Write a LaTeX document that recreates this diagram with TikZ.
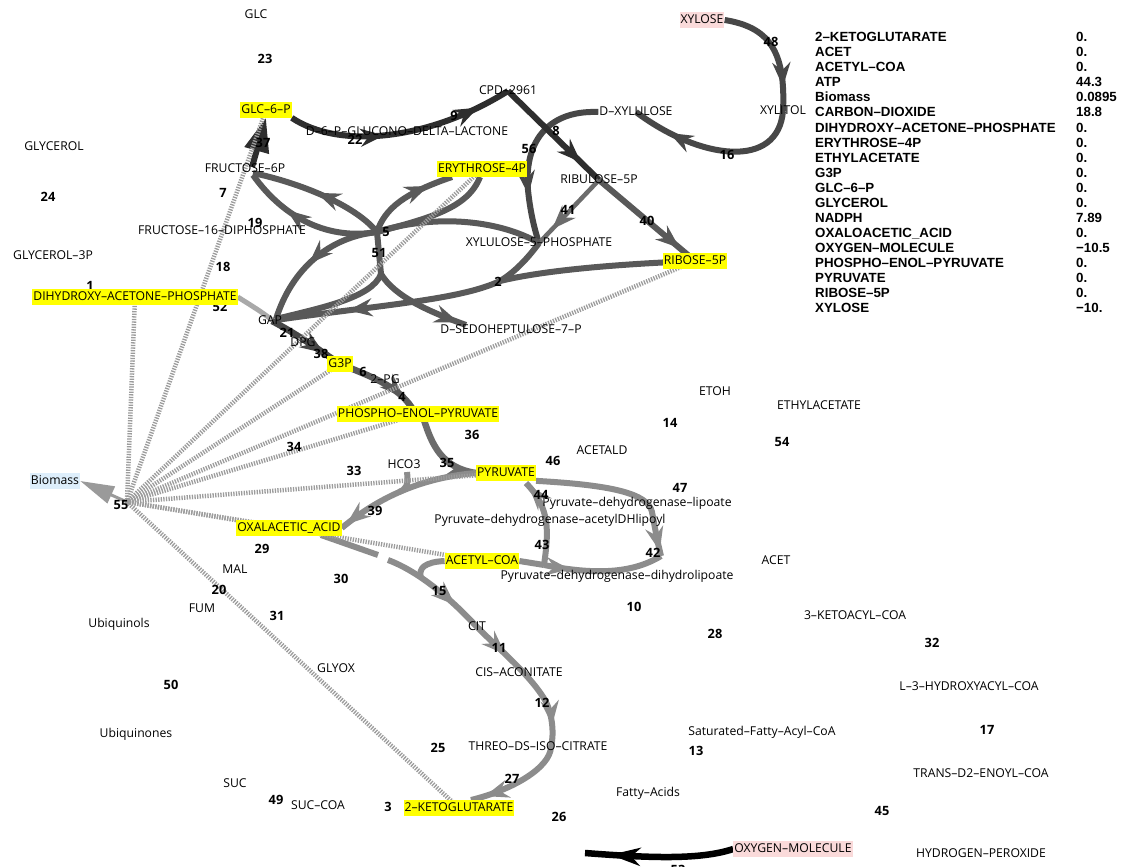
\documentclass[tikz,border=0pt]{standalone}
\usepackage{fontspec}
\usetikzlibrary{arrows.meta,decorations.markings}
\newfontfamily\osans{Open Sans}
\newfontfamily\lsans{Liberation Sans}
\definecolor{hlyellow}{HTML}{FFFF00}
\definecolor{srcpink}{HTML}{FADADA}
\definecolor{bioblue}{HTML}{DDEEFB}
\definecolor{cA}{HTML}{2E2E2E}
\definecolor{cB}{HTML}{474747}
\definecolor{cC}{HTML}{595959}
\definecolor{cD}{HTML}{6C6C6C}
\definecolor{cE}{HTML}{8C8C8C}
\definecolor{cF}{HTML}{A9A9A9}
\definecolor{cG}{HTML}{9A9A9A}
\definecolor{hatchgray}{HTML}{9C9C9C}
\pgfdeclarelayer{bg}
\pgfdeclarelayer{mid}
\pgfsetlayers{bg,mid,main}
\tikzset{
  met/.style={font=\osans\fontsize{12.2}{14}\selectfont, text=black, inner xsep=1pt, inner ysep=2.5pt, text height=8.8pt, text depth=1.5pt},
  hl/.style={met, fill=hlyellow},
  src/.style={met, fill=srcpink},
  bio/.style={met, fill=bioblue, inner ysep=3pt},
  num/.style={font=\osans\bfseries\fontsize{12.8}{14}\selectfont, text=black, inner sep=0pt, text height=9.2pt, text depth=0pt},
  tabn/.style={font=\lsans\bfseries\fontsize{13.3}{15}\selectfont, text=black, anchor=base west, inner sep=0pt},
  flux/.style={line width=6pt, line cap=butt, line join=round},
  hatch/.style={draw=hatchgray, line width=4.5pt, dash pattern=on 1.3pt off 1.3pt},
  arr/.style={postaction={decorate, decoration={markings, mark=at position #1 with {\arrow{Stealth[length=24pt,width=18pt,inset=8pt]}}}}},
  arrbig/.style={postaction={decorate, decoration={markings, mark=at position #1 with {\arrow{Stealth[length=30pt,width=18pt,inset=9pt]}}}}},
}
\begin{document}
\begin{tikzpicture}[x=1pt,y=-1pt]
\useasboundingbox (0,0) rectangle (1133,867);

% reaction hubs
\coordinate (hub5) at (377,232);
\coordinate (hub51) at (381,274);
\coordinate (hub2) at (500,281);
\coordinate (hub43) at (544,565);
\coordinate (hub55) at (127,502);
\coordinate (hcojoin) at (399,492);
\coordinate (tcagap) at (378,555);
\coordinate (tcastart) at (388,560);
\coordinate (acjoin) at (421,578);
\coordinate (o2end) at (585,853);

% reaction numbers
\foreach \t/\px/\py in {1/90/286, 2/498/282, 3/388/807, 4/402/397, 5/386/232, 6/363/372, 7/223/193, 8/556/131, 9/454/116, 10/634/607, 11/499/648, 12/542/703, 13/696/751, 14/670/423, 15/439/591, 16/727/155, 17/987/730, 18/223/267, 19/255/223, 20/219/590, 21/287/333, 22/355/140, 23/265/59, 24/48/197, 25/438/748, 26/559/817, 27/512/779, 28/715/634, 29/262/549, 30/341/579, 31/277/616, 32/932/643, 33/354/471, 34/294/447, 35/447/463, 36/472/435, 37/263/143, 38/321/354, 39/375/511, 40/647/221, 41/568/210, 42/653/553, 43/542/545, 44/541/495, 45/882/811, 46/553/461, 47/680/488, 48/771/42, 49/276/800, 50/171/685, 51/379/253, 52/220/307, 53/678/870, 54/782/442, 55/121/505, 56/529/149}
  \node[num] (r\t) at (\px,\py) {\t};

% metabolites
\node[met] (glc) at (256,15) {GLC};
\node[hl] (glcsixp) at (266,110) {GLC–6–P};
\node[met] (dglucono) at (407,132) {D–6–P–GLUCONO–DELTA–LACTONE};
\node[met] (cpd) at (508,91) {CPD–2961};
\node[met] (dxylulose) at (636,112) {D–XYLULOSE};
\node[src] (xylose) at (702,20) {XYLOSE};
\node[met] (xylitol) at (783,111) {XYLITOL};
\node[hl] (efourp) at (482,169) {ERYTHROSE–4P};
\node[met] (ribulose) at (599,180) {RIBULOSE–5P};
\node[met] (xfivep) at (539,243) {XYLULOSE–5–PHOSPHATE};
\node[hl] (rfivep) at (695,261) {RIBOSE–5P};
\node[met] (sedo) at (511,330) {D–SEDOHEPTULOSE–7–P};
\node[met] (fsixp) at (245,169) {FRUCTOSE–6P};
\node[met] (fbp) at (222,231) {FRUCTOSE–16–DIPHOSPHATE};
\node[met] (glycerol) at (54,147) {GLYCEROL};
\node[met] (glythreep) at (53,256) {GLYCEROL–3P};
\node[hl] (dhap) at (135,297) {DIHYDROXY–ACETONE–PHOSPHATE};
\node[met] (gap) at (270,321) {GAP};
\node[met] (dpg) at (303,343) {DPG};
\node[hl] (gthreep) at (340,364) {G3P};
\node[met] (twopg) at (385,380) {2–PG};
\node[hl] (pep) at (418,414) {PHOSPHO–ENOL–PYRUVATE};
\node[met] (hco) at (404,465) {HCO3};
\node[hl] (pyr) at (506,473) {PYRUVATE};
\node[met] (acetald) at (602,451) {ACETALD};
\node[met] (etoh) at (715,392) {ETOH};
\node[met] (ethylac) at (819,406) {ETHYLACETATE};
\node[met] (pdhlip) at (637,503) {Pyruvate–dehydrogenase–lipoate};
\node[met] (pdhacet) at (550,520) {Pyruvate–dehydrogenase–acetylDHlipoyl};
\node[met] (pdhdih) at (617,576) {Pyruvate–dehydrogenase–dihydrolipoate};
\node[met] (acet) at (776,561) {ACET};
\node[hl] (accoa) at (482,561) {ACETYL–COA};
\node[bio] (biomass) at (55,481) {Biomass};
\node[hl] (oaa) at (289,528) {OXALACETIC\_ACID};
\node[met] (mal) at (235,570) {MAL};
\node[met] (fum) at (202,609) {FUM};
\node[met] (ubiquinols) at (119,624) {Ubiquinols};
\node[met] (cit) at (477,627) {CIT};
\node[met] (glyox) at (336,669) {GLYOX};
\node[met] (cisacon) at (519,673) {CIS–ACONITATE};
\node[met] (ubiquinones) at (136,734) {Ubiquinones};
\node[met] (threo) at (538,747) {THREO–DS–ISO–CITRATE};
\node[met] (suc) at (235,784) {SUC};
\node[met] (succoa) at (318,806) {SUC–COA};
\node[hl] (akg) at (459,808) {2–KETOGLUTARATE};
\node[met] (ketoacyl) at (855,616) {3–KETOACYL–COA};
\node[met] (hydroxyacyl) at (969,687) {L–3–HYDROXYACYL–COA};
\node[met] (satfa) at (762,732) {Saturated–Fatty–Acyl–CoA};
\node[met] (enoyl) at (981,774) {TRANS–D2–ENOYL–COA};
\node[met] (fatty) at (648,793) {Fatty–Acids};
\node[src] (oxygen) at (793,849) {OXYGEN–MOLECULE};
\node[met] (hperox) at (981,854) {HYDROGEN–PEROXIDE};

% table
\foreach \n/\v [count=\i from 0] in {2–KETOGLUTARATE/0., ACET/0., ACETYL–COA/0., ATP/44.3, Biomass/0.0895, CARBON–DIOXIDE/18.8, DIHYDROXY–ACETONE–PHOSPHATE/0., ERYTHROSE–4P/0., ETHYLACETATE/0., G3P/0., GLC–6–P/0., GLYCEROL/0., NADPH/7.89, OXALOACETIC\_ACID/0., OXYGEN–MOLECULE/−10.5, PHOSPHO–ENOL–PYRUVATE/0., PYRUVATE/0., RIBOSE–5P/0., XYLOSE/−10.}{
  \pgfmathsetmacro\yy{37+15.05*\i+4.7}
  \node[tabn] (tn\i) at (815,\yy) {\n};
  \node[tabn] (tv\i) at (1076,\yy) {\v};
}

\begin{pgfonlayer}{bg}
\fill[white] (0,0) rectangle (1133,867);
% xylose branch
\draw[flux,draw=cB,arr=0.8] (xylose.east) .. controls (768,27) and (786,50) .. (xylitol.center);
\draw[flux,draw=cB,arr=0.78] (xylitol.center) .. controls (778,170) and (700,160) .. (dxylulose.center);
\draw[flux,draw=cB,arr=0.72] (dxylulose.west) .. controls (545,110) and (524,145) .. (528,190) .. controls (530,210) and (534,228) .. (xfivep.center);
% oxidative pentose phosphate
\draw[flux,draw=cA,arr=0.42,arr=0.85] (glcsixp.south east) .. controls (340,150) and (430,140) .. (cpd.center);
\draw[flux,draw=cA,arr=0.8] (cpd.center) -- (ribulose.center);
\draw[flux,draw=cC,arr=0.84] (ribulose.center) -- (rfivep.center);
\draw[flux,draw=cD,line width=4.5pt,arr=0.78] (ribulose.center) -- (xfivep.center);
% glc-6-p / f6p
\draw[flux,draw=cA,-{Triangle[length=34pt,width=24pt]}] ([shift={(7,-2)}]fsixp.center) -- (glcsixp.south);
% non-oxidative pentose phosphate
\draw[flux,draw=cC,arr=0.52] (hub5) .. controls (355,205) and (300,183) .. ([shift={(8,4)}]fsixp.center);
\draw[flux,draw=cC,arr=0.66] (hub5) .. controls (330,240) and (285,220) .. ([shift={(8,6)}]fsixp.center);
\draw[flux,draw=cC,arr=0.74] (hub5) .. controls (385,208) and (405,193) .. ([shift={(-30,8)}]efourp.center);
\draw[flux,draw=cC] ([shift={(-2,8)}]efourp.center) .. controls (468,208) and (430,218) .. (hub5);
\draw[flux,draw=cC] (hub5) .. controls (430,215) and (495,218) .. (xfivep.center);
\draw[flux,draw=cC,arr=0.54] (hub5) .. controls (330,237) and (292,268) .. ([shift={(6,-2)}]gap.center);
\draw[flux,draw=cC] (hub5) -- (hub51);
\draw[flux,draw=cC] (hub51) .. controls (372,298) and (320,308) .. ([shift={(6,-2)}]gap.center);
\draw[flux,draw=cC,arr=0.92] (hub51) .. controls (395,297) and (430,312) .. ([shift={(-45,-5)}]sedo.center);
\draw[flux,draw=cC] (rfivep.center) .. controls (620,264) and (545,270) .. (hub2);
\draw[flux,draw=cC] (xfivep.center) .. controls (528,258) and (515,272) .. (hub2);
\draw[flux,draw=cC,arr=0.68] (hub2) .. controls (460,300) and (380,305) .. ([shift={(6,-1)}]gap.center);
% glycolysis
\draw[flux,draw=cF,line width=5pt] (dhap.east) .. controls (252,306) and (262,312) .. ([shift={(2,-1)}]gap.center);
\draw[flux,draw=cB,line width=6.5pt,arr=0.76] ([shift={(2,0)}]gap.center) .. controls (295,333) and (315,347) .. (gthreep.center);
\draw[flux,draw=cC,line width=6.5pt,arr=0.84] (gthreep.center) .. controls (370,376) and (398,386) .. ([shift={(-6,-6)}]pep.center);
\draw[flux,draw=cD,line width=6.5pt,arrbig=0.98] ([shift={(6,6)}]pep.center) .. controls (432,445) and (442,468) .. (pyr.west);
% anaplerotic
\draw[flux,draw=cE,arr=0.96] (pyr.west) .. controls (430,477) and (385,492) .. (oaa.east);
\draw[flux,draw=cE] ([shift={(3,7)}]hco.center) .. controls (409,486) and (405,490) .. (hcojoin);
% pyruvate dehydrogenase
\draw[flux,draw=cE,arr=0.97] (pyr.south east) .. controls (610,485) and (648,493) .. (652,512) .. controls (655,528) and (657,540) .. (661,556);
\draw[flux,draw=cE,arr=0.22] (hub43) .. controls (590,574) and (630,575) .. (661,556);
\draw[flux,draw=cE,arr=0.95] (hub43) .. controls (549,530) and (550,508) .. ([shift={(20,10)}]pyr.center);
\draw[flux,draw=cE] (accoa.east) -- (hub43);
% TCA cycle
\draw[flux,draw=cE] ([shift={(32,7)}]oaa.center) -- (tcagap);
\draw[flux,draw=cE,arr=0.225,arr=0.42,arr=0.66,arr=0.96] (tcastart) .. controls (420,572) and (452,600) .. (cit.center) .. controls (500,650) and (530,675) .. (545,700) .. controls (553,715) and (554,735) .. ([shift={(13,0)}]threo.center) .. controls (550,768) and (512,790) .. ([shift={(12,-8)}]akg.center);
\draw[flux,draw=cE] (accoa.west) .. controls (425,562) and (418,568) .. (acjoin);
% oxygen
\draw[line width=6.5pt,draw=black,arrbig=0.83] (oxygen.west) .. controls (700,860) and (650,858) .. (o2end);
% biomass
\draw[draw=cG,line width=3pt,-{Triangle[length=34pt,width=18pt]}] (hub55) -- (biomass.east);
\end{pgfonlayer}

\begin{pgfonlayer}{mid}
\foreach \t in {dhap,glcsixp,efourp,gthreep,rfivep,pep,pyr,oaa,accoa,akg}
  \draw[hatch] (hub55) -- (\t.center);
\end{pgfonlayer}
\end{tikzpicture}
\end{document}
